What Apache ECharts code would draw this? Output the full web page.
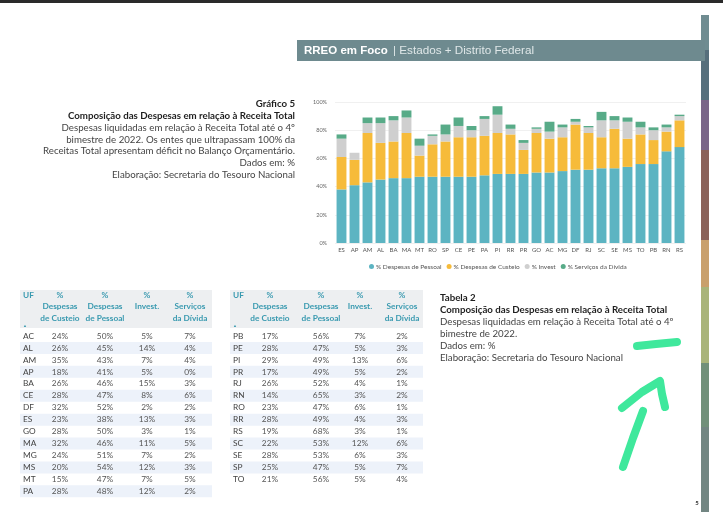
<!DOCTYPE html>
<html><head><meta charset="utf-8">
<script src="https://cdn.jsdelivr.net/npm/echarts@6/dist/echarts.min.js"></script>
<style>html,body{margin:0;padding:0;background:#fff}#c{width:723px;height:517px}</style>
</head><body><div id="c"></div>
<script>
// ---- data ----
const tableUF  = ['AC','AL','AM','AP','BA','CE','DF','ES','GO','MA','MG','MS','MT','PA','PB','PE','PI','PR','RJ','RN','RO','RR','RS','SC','SE','SP','TO'];
const custeio  = [24,26,35,18,26,28,32,23,28,32,24,20,15,28,17,28,29,17,26,14,23,28,19,22,28,25,21];
const pessoal  = [50,45,43,41,46,47,52,38,50,46,51,54,47,48,56,47,49,49,52,65,47,49,68,53,53,47,56];
const invest   = [5,14,7,5,15,8,2,13,3,11,7,12,7,12,7,5,13,5,4,3,6,4,3,12,6,5,5];
const divida   = [7,4,4,0,3,6,2,3,1,5,2,3,5,2,2,3,6,2,1,2,1,3,1,6,3,7,4];
const chartOrder = ['ES','AP','AM','AL','BA','MA','MT','RO','SP','CE','PE','PA','PI','RR','PR','GO','AC','MG','DF','RJ','SC','SE','MS','TO','PB','RN','RS'];
const seriesNames = ['% Despesas de Pessoal','% Despesas de Custeio','% Invest','% Serviços da Dívida'];
const yTicks = [0,20,40,60,80,100];
const headerTitle = 'RREO em Foco';
const headerSub = '| Estados + Distrito Federal';
const graficoText = ['Gráfico 5','Composição das Despesas em relação à Receita Total','Despesas liquidadas em relação à Receita Total até o 4º','bimestre de 2022. Os entes que ultrapassam 100% da','Receitas Total apresentam déficit no Balanço Orçamentário.','Dados em: %','Elaboração: Secretaria do Tesouro Nacional'];
const tabelaText = ['Tabela 2','Composição das Despesas em relação à Receita Total','Despesas liquidadas em relação à Receita Total até o 4º','bimestre de 2022.','Dados em: %','Elaboração: Secretaria do Tesouro Nacional'];
const tableHeaders = [['UF'],['%','Despesas','de Custeio'],['%','Despesas','de Pessoal'],['%','Invest.'],['%','Serviços','da Dívida']];
const pageNumber = '5';

// ---- build ----
const idx = u => tableUF.indexOf(u);
const cols = [pessoal, custeio, invest, divida];
const colors = ['#5cb4c2','#f6bb3a','#cfcfcf','#58ab88'];
const FONT = 'Lato, "Open Sans", sans-serif';

const series = cols.map((arr,k)=>({
  name: seriesNames[k], type:'bar', stack:'s', barCategoryGap:'24%',
  itemStyle:{color:colors[k]}, data: chartOrder.map(u=>arr[idx(u)])
}));

const g = [];
// top dark line
g.push({type:'rect', shape:{x:0,y:0,width:723,height:3}, style:{fill:'#2a2a2a'}});
// right colour strip
const strip = [[15,50,'#6f8c91'],[50,100,'#566f7c'],[100,150,'#7a6689'],[150,240,'#8a625a'],[240,287,'#c9a06c'],[287,363,'#a9b47a'],[363,427,'#71907a'],[427,512,'#728682']];
strip.forEach(s=>g.push({type:'rect', shape:{x:701,y:s[0],width:8,height:s[1]-s[0]}, style:{fill:s[2]}}));
// header bar
g.push({type:'rect', shape:{x:297,y:40,width:408,height:21}, style:{fill:'#6e8a8f'}});
g.push({type:'text', x:304, y:50.5, style:{text:headerTitle, font:'bold 11.5px "Liberation Sans", Arial, sans-serif', fill:'#ffffff', textVerticalAlign:'middle'}});
g.push({type:'text', x:393, y:50.5, style:{text:headerSub, font:'11.7px "Liberation Sans", Arial, sans-serif', fill:'#dfe7e8', textVerticalAlign:'middle'}});
// Gráfico 5 block
const gy = [104,116,128,140,151,163,175];
graficoText.forEach((t,i)=>g.push({type:'text', x:295, y:gy[i], style:{text:t, font:(i<2?'bold ':'')+'9.7px '+FONT, fill:i<2?'#1f1f1f':'#444', textAlign:'right', textVerticalAlign:'middle'}}));
// Tabela 2 block
const ty = [298,310,322,334,346,358];
tabelaText.forEach((t,i)=>g.push({type:'text', x:440, y:ty[i], style:{text:t, font:(i<2?'bold ':'')+'9.7px '+FONT, fill:i<2?'#1f1f1f':'#444', textAlign:'left', textVerticalAlign:'middle'}}));

// tables
function table(x0, w, colX, ufs){
  g.push({type:'rect', shape:{x:x0,y:290,width:w,height:38}, style:{fill:'#edeff1'}});
  tableHeaders.forEach((h,c)=>{
    h.forEach((t,l)=>g.push({type:'text', x: c===0? x0+3 : colX[c-1], y:295+l*11.5, style:{text:t, font:'bold 8.3px '+FONT, fill:'#3a9ab0', textAlign: c===0?'left':'center', textVerticalAlign:'middle'}}));
  });
  g.push({type:'text', x:x0+3, y:326, style:{text:'▲', font:'4px sans-serif', fill:'#3a9ab0', textVerticalAlign:'middle'}});
  ufs.forEach((u,i)=>{
    const y = 336 + i*11.95;
    if(i%2===1) g.push({type:'rect', shape:{x:x0,y:y-6,width:w,height:12}, style:{fill:'#edf2fa'}});
    const k = idx(u);
    g.push({type:'text', x:x0+3, y:y, style:{text:u, font:'8.3px '+FONT, fill:'#444', textVerticalAlign:'middle'}});
    [custeio,pessoal,invest,divida].forEach((arr,c)=>g.push({type:'text', x:colX[c], y:y, style:{text:arr[k]+'%', font:'8.3px '+FONT, fill:'#555', textAlign:'center', textVerticalAlign:'middle'}}));
  });
}
table(20,192,[60,105,147,190], tableUF.slice(0,14));
table(230,193,[270,321,360,402], tableUF.slice(14));

// page number
g.push({type:'text', x:697, y:503, style:{text:pageNumber, font:'bold 6px '+FONT, fill:'#333', textAlign:'center', textVerticalAlign:'middle'}});
// hand-drawn green marks
const mark = {stroke:'#3fe89c', lineWidth:8, lineCap:'round', lineJoin:'round', fill:null};
g.push({type:'polyline', shape:{points:[[637,346],[656,344],[677,342]]}, style:mark});
g.push({type:'polyline', shape:{points:[[623,467],[633,438],[643,411]]}, style:mark});
g.push({type:'polyline', shape:{points:[[622,408],[642,392],[660,381],[662,394],[665,407]]}, style:mark});

const chart = echarts.init(document.getElementById('c'));
chart.setOption({
  backgroundColor:'#fff',
  animation:false,
  textStyle:{fontFamily:FONT},
  grid:{left:335, right:37, top:102, bottom:274},
  legend:{data:seriesNames, left:364, top:258, icon:'circle', itemWidth:5, itemHeight:5, itemGap:5,
    textStyle:{fontSize:6.5, color:'#555', padding:[0,0,0,-3]}},
  xAxis:{type:'category', data:chartOrder, axisLine:{show:false}, axisTick:{show:false},
    axisLabel:{interval:0, fontSize:6, color:'#555', margin:4}},
  yAxis:{type:'value', min:yTicks[0], max:yTicks[yTicks.length-1], interval:20,
    axisLabel:{formatter:'{value}%', fontSize:5.5, color:'#666', margin:8},
    splitLine:{lineStyle:{color:'#f0f0f0'}}},
  series: series,
  graphic: g
});
</script></body></html>
